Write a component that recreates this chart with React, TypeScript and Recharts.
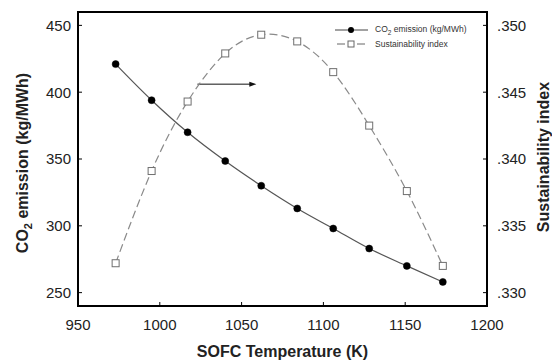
import { LineChart, Line, XAxis, YAxis, ReferenceArea, ReferenceLine, Legend } from "recharts"

// SOFC temperature (K)
const temps = [973, 995, 1017, 1040, 1062, 1084, 1106, 1128, 1151, 1173]
// CO2 emission (kg/MWh), left axis
const co2Emission = [421, 394, 370, 348.5, 330, 313, 298, 283, 270, 258]
// Sustainability index, right axis
const sustainabilityIndex = [0.3322, 0.3391, 0.3443, 0.3479, 0.3493, 0.3488, 0.3465, 0.3425, 0.3376, 0.332]

const xTicks = [950, 1000, 1050, 1100, 1150, 1200]
const co2Ticks = [250, 300, 350, 400, 450]
const siTicks = [0.33, 0.335, 0.34, 0.345, 0.35]

// arrow pointing from the SI curve towards its (right) axis
const arrowFrom = { x: 1023, y: 406 }
const arrowTo = { x: 1059, y: 406 }

const FONT = '"Liberation Sans", Arial, Helvetica, sans-serif'
const TEXT = "#222"

const data = temps.map((t, i) => ({
  temp: t,
  co2: co2Emission[i],
  si: sustainabilityIndex[i],
}))

const tickStyle = { fontSize: 15, fill: TEXT, fontFamily: FONT }

function SquareDot(props: any) {
  const { cx, cy, index } = props
  if (cx == null || cy == null) return <g key={index} />
  return (
    <rect
      key={index}
      x={cx - 3.5}
      y={cy - 3.5}
      width={7}
      height={7}
      fill="#fff"
      stroke="#6f6f6f"
      strokeWidth={1}
    />
  )
}

function Arrow(props: any) {
  const { x1, y1, x2, y2 } = props
  if (x1 == null) return <g />
  return (
    <g>
      <line x1={x1} y1={y1} x2={x2 - 5} y2={y2} stroke="#111" strokeWidth={1} />
      <polygon points={`${x2},${y2} ${x2 - 7},${y2 - 2.5} ${x2 - 7},${y2 + 2.5}`} fill="#111" />
    </g>
  )
}

function LegendBox() {
  const row = { display: "flex", alignItems: "center", height: 14 } as const
  const txt = { fontSize: 8.5, color: "#333", fontFamily: FONT, marginLeft: 6, whiteSpace: "nowrap" } as const
  return (
    <div>
      <div style={row}>
        <svg width={34} height={10}>
          <line x1={0} y1={5} x2={33} y2={5} stroke="#444" strokeWidth={1} />
          <circle cx={16} cy={5} r={3} fill="#000" />
        </svg>
        <span style={txt}>
          CO<sub style={{ fontSize: 6.5 }}>2</sub> emission (kg/MWh)
        </span>
      </div>
      <div style={row}>
        <svg width={34} height={10}>
          <line x1={2} y1={5} x2={10} y2={5} stroke="#666" strokeWidth={1} />
          <line x1={22} y1={5} x2={30} y2={5} stroke="#666" strokeWidth={1} />
          <rect x={13} y={2} width={6} height={6} fill="#fff" stroke="#666" strokeWidth={1} />
        </svg>
        <span style={txt}>Sustainability index</span>
      </div>
    </div>
  )
}

export default function App() {
  return (
    <div style={{ position: "absolute", left: 0, top: 0, width: 552, height: 360, background: "#fff" }}>
      <LineChart width={552} height={360} data={data} margin={{ top: 12, right: 15, bottom: 14, left: 28 }}>
        <XAxis
          dataKey="temp"
          type="number"
          domain={[950, 1200]}
          ticks={xTicks}
          axisLine={false}
          tickLine={{ stroke: "#000" }}
          tickSize={-4}
          tickMargin={17}
          tick={tickStyle}
          height={40}
          label={() => (
            <text
              x={282.5}
              y={357}
              textAnchor="middle"
              fontSize={16}
              fontWeight="bold"
              fontFamily={FONT}
              fill={TEXT}
            >
              SOFC Temperature (K)
            </text>
          )}
        />
        <YAxis
          yAxisId="left"
          domain={[240, 460]}
          ticks={co2Ticks}
          axisLine={false}
          tickLine={{ stroke: "#000" }}
          tickSize={-4}
          tickMargin={11}
          tick={tickStyle}
          width={50}
          label={() => (
            <text
              x={28}
              y={163}
              transform="rotate(-90 28 163)"
              textAnchor="middle"
              fontSize={16}
              fontWeight="bold"
              fontFamily={FONT}
              fill={TEXT}
            >
              CO
              <tspan fontSize={11} dy={4}>
                2
              </tspan>
              <tspan dy={-4}> emission (kg/MWh)</tspan>
            </text>
          )}
        />
        <YAxis
          yAxisId="right"
          orientation="right"
          domain={[0.329, 0.351]}
          ticks={siTicks}
          axisLine={false}
          tickLine={{ stroke: "#000" }}
          tickSize={-4}
          tickMargin={14}
          tick={tickStyle}
          tickFormatter={(v: number) => v.toFixed(3).replace(/^0/, "")}
          width={50}
          label={() => (
            <text
              x={549}
              y={157}
              transform="rotate(-90 549 157)"
              textAnchor="middle"
              fontSize={16}
              fontWeight="bold"
              fontFamily={FONT}
              fill={TEXT}
            >
              Sustainability index
            </text>
          )}
        />
        <ReferenceArea
          yAxisId="left"
          x1={950}
          x2={1200}
          y1={240}
          y2={460}
          fill="none"
          stroke="#000"
          strokeWidth={2}
        />
        <ReferenceLine yAxisId="left" segment={[arrowFrom, arrowTo]} shape={Arrow} />
        <Line
          yAxisId="right"
          dataKey="si"
          type="natural"
          stroke="#8a8a8a"
          strokeWidth={1.2}
          strokeDasharray="8 4"
          dot={SquareDot}
          isAnimationActive={false}
        />
        <Line
          yAxisId="left"
          dataKey="co2"
          type="monotone"
          stroke="#555"
          strokeWidth={1.2}
          dot={{ r: 3.5, fill: "#000", stroke: "#000", strokeWidth: 0.5 }}
          isAnimationActive={false}
        />
        <Legend
          layout="horizontal"
          verticalAlign="middle"
          align="center"
          content={() => <LegendBox />}
          wrapperStyle={{ position: "absolute", left: 335, top: 23, width: 170, height: 28 }}
        />
      </LineChart>
    </div>
  )
}
